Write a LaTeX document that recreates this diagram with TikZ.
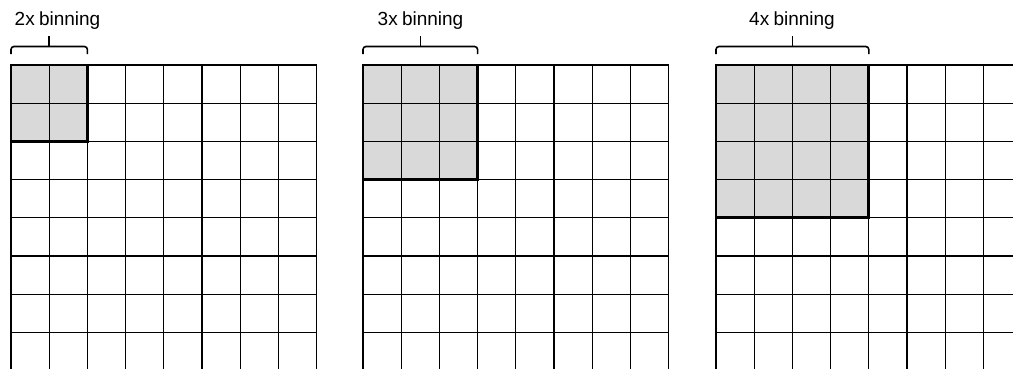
\documentclass[tikz,border=0pt]{standalone}
\usepackage{fontspec}
\setmainfont{Liberation Sans}

\tikzset{
  gridline/.style={line width=1.2pt, black},
  binbox/.style={line width=2.8pt, black},
  binfill/.style={fill=black!15},
  bracket/.style={line width=1.6pt, rounded corners=3pt},
  binlabel/.style={font=\fontsize{19}{21}\selectfont, anchor=base, inner sep=0pt}
}

\begin{document}
\begin{tikzpicture}[x=1pt,y=-1pt]
  \clip (0,0) rectangle (1013,368);
  % three sensor grids: bin size / left edge / label centre
  \foreach \n/\xo/\lx in {2/11/57.5, 3/363/420.5, 4/716/792}{
    \fill[binfill] (\xo,65) rectangle ++(\n*38.2,\n*38.2);
    \foreach \i in {0,...,8}
      \draw[gridline] (\xo+\i*38.2,65) -- (\xo+\i*38.2,380);
    \foreach \j in {0,...,7}
      \draw[gridline] (\xo,65+\j*38.2) -- (\xo+305.6,65+\j*38.2);
    \draw[binbox] (\xo,65) rectangle ++(\n*38.2,\n*38.2);
    % bracket over the bin
    \draw[bracket] (\xo,54) -- (\xo,46.5) -- (\xo+\n*38.2,46.5) -- (\xo+\n*38.2,54);
    \draw[line width=1.6pt] (\xo+\n*19.1,46.5) -- (\xo+\n*19.1,36);
    \node[binlabel] (lbl\n) at (\lx,25) {\n x\hspace{-1pt} binning};
  }
\end{tikzpicture}
\end{document}
